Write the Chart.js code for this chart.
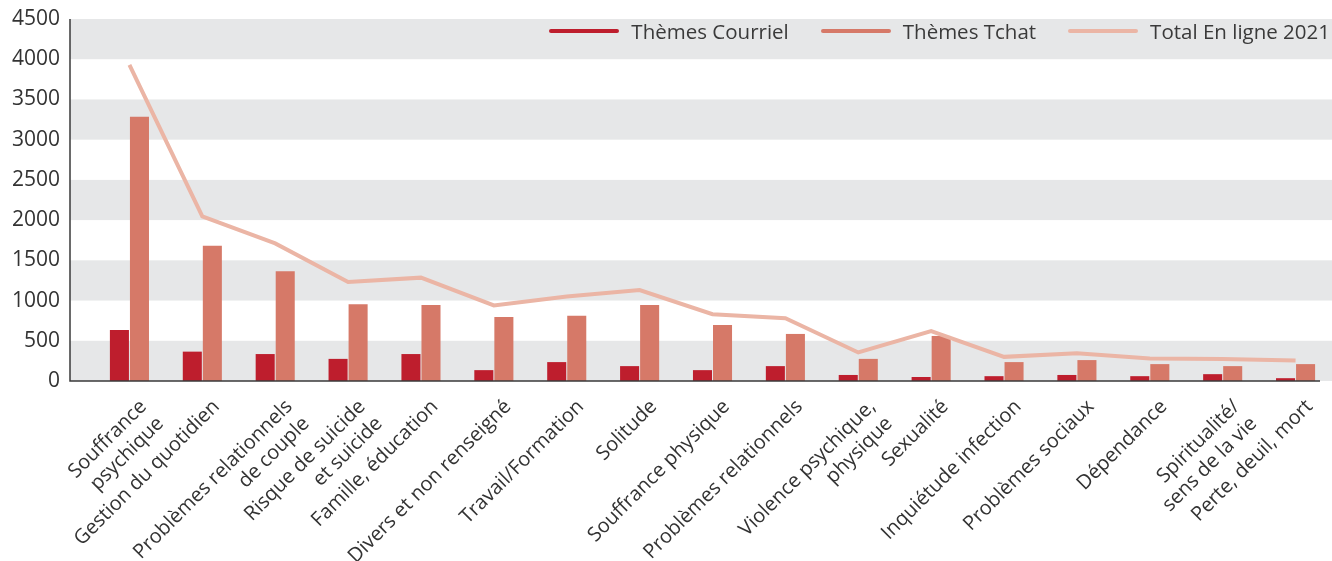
<!DOCTYPE html>
<html>
<head>
<meta charset="utf-8">
<script src="https://cdn.jsdelivr.net/npm/chart.js@4.4.1/dist/chart.umd.min.js"></script>
<style>
  html, body { margin: 0; padding: 0; background: #fff; }
  #wrap { width: 1332px; height: 561px; position: relative; }
  #legend {
    position: absolute; top: 17px; right: 2px;
    display: flex; align-items: center;
    font-family: 'Open Sans', 'Noto Sans', sans-serif; font-size: 20.5px; color: #3a3a3a;
    line-height: 28px; white-space: nowrap;
  }
  .legend-item { display: flex; align-items: center; margin-left: 32px; }
  .legend-item:first-child { margin-left: 0; }
  .legend-line { display: inline-block; width: 70px; height: 4px; border-radius: 2px; margin-right: 12px; }
</style>
</head>
<body>
<div id="wrap"><canvas id="themesChart"></canvas><div id="legend"></div></div>
<script>
// Themes of online contacts (courriel + tchat), 2021
const categories = [
    ['Souffrance', 'psychique'],
    'Gestion du quotidien',
    ['Problèmes relationnels', 'de couple'],
    ['Risque de suicide', 'et suicide'],
    'Famille, éducation',
    'Divers et non renseigné',
    'Travail/Formation',
    'Solitude',
    'Souffrance physique',
    'Problèmes relationnels',
    ['Violence psychique,', 'physique'],
    'Sexualité',
    'Inquiétude infection',
    'Problèmes sociaux',
    'Dépendance',
    ['Spiritualité/', 'sens de la vie'],
    'Perte, deuil, mort'
];
const courrielValues = [635, 365, 335, 275, 335, 135, 235, 185, 135, 185, 75, 50, 60, 75, 60, 85, 35];
const tchatValues = [3285, 1680, 1365, 955, 945, 795, 810, 945, 695, 585, 275, 560, 235, 260, 210, 185, 210];
const totalValues = [3930, 2045, 1710, 1230, 1285, 940, 1050, 1130, 830, 780, 355, 620, 300, 345, 280, 275, 255];
const yTicks = [0, 500, 1000, 1500, 2000, 2500, 3000, 3500, 4000, 4500];

const FONT = "'Open Sans', 'Noto Sans', sans-serif";
const TEXT_COLOR = '#333333';
const AXIS_X = 70;      // where the y axis line sits
const BAND_COLOR = '#e6e7e8';

// grey bands + axis lines, drawn by hand
const bandsPlugin = {
    id: 'bands',
    beforeDatasetsDraw(chart) {
        const { ctx, scales: { y } } = chart;
        ctx.save();
        ctx.fillStyle = BAND_COLOR;
        for (let i = 0; i < yTicks.length - 1; i += 2) {
            const top = y.getPixelForValue(yTicks[i + 1]);
            const bottom = y.getPixelForValue(yTicks[i]);
            ctx.fillRect(AXIS_X, top, chart.width - AXIS_X, bottom - top);
        }
        ctx.restore();
    },
    afterDatasetsDraw(chart) {
        const { ctx, chartArea, scales: { y } } = chart;
        ctx.save();
        ctx.strokeStyle = '#3a3a3a';
        ctx.lineWidth = 1.5;
        ctx.beginPath();
        ctx.moveTo(AXIS_X, y.getPixelForValue(4500));
        ctx.lineTo(AXIS_X, y.getPixelForValue(0));
        ctx.lineTo(chartArea.right - 12, y.getPixelForValue(0));
        ctx.stroke();
        ctx.restore();
    }
};

const ctx = document.getElementById('themesChart').getContext('2d');
const chart = new Chart(ctx, {
    type: 'bar',
    data: {
        labels: categories,
        datasets: [{
            label: 'Thèmes Courriel',
            data: courrielValues,
            backgroundColor: '#be1e2d',
            borderWidth: 0,
            categoryPercentage: 0.55,
            barPercentage: 0.95,
            order: 1
        }, {
            label: 'Thèmes Tchat',
            data: tchatValues,
            backgroundColor: '#d67968',
            borderWidth: 0,
            categoryPercentage: 0.55,
            barPercentage: 0.95,
            order: 1
        }, {
            type: 'line',
            label: 'Total En ligne 2021',
            data: totalValues,
            borderColor: '#ebb5a5',
            backgroundColor: '#ebb5a5',
            borderWidth: 4,
            pointRadius: 0,
            tension: 0,
            fill: false,
            order: 0
        }]
    },
    options: {
        responsive: true,
        maintainAspectRatio: false,
        animation: false,
        layout: { autoPadding: false, padding: { top: 19, right: 0, left: 0, bottom: 0 } },
        plugins: {
            legend: { display: false },
            tooltip: { enabled: false }
        },
        scales: {
            x: {
                grid: { display: false, drawTicks: false },
                border: { display: false },
                ticks: {
                    autoSkip: false,
                    maxRotation: 45,
                    minRotation: 45,
                    padding: 14,
                    labelOffset: 14,
                    color: TEXT_COLOR,
                    font: { family: FONT, size: 20 }
                },
                afterFit(scale) { scale.height = 180; }
            },
            y: {
                min: 0,
                max: 4500,
                grid: { display: false, drawTicks: false },
                border: { display: false },
                ticks: {
                    stepSize: 500,
                    padding: 33,
                    color: TEXT_COLOR,
                    font: { family: FONT, size: 21 },
                    callback: (value) => String(value)
                },
                afterFit(scale) {
                    scale.width = 93;
                    // tick padding would otherwise push the plot top down
                    scale.paddingTop = 0;
                    scale.paddingBottom = 0;
                }
            }
        }
    },
    plugins: [bandsPlugin]
});

// html legend, lines instead of boxes like the original
const legendDiv = document.getElementById('legend');
chart.data.datasets.forEach(ds => {
    const item = document.createElement('span');
    item.className = 'legend-item';
    const line = document.createElement('span');
    line.className = 'legend-line';
    line.style.background = ds.backgroundColor;
    const text = document.createElement('span');
    text.textContent = ds.label;
    item.appendChild(line);
    item.appendChild(text);
    legendDiv.appendChild(item);
});
</script>
</body>
</html>
